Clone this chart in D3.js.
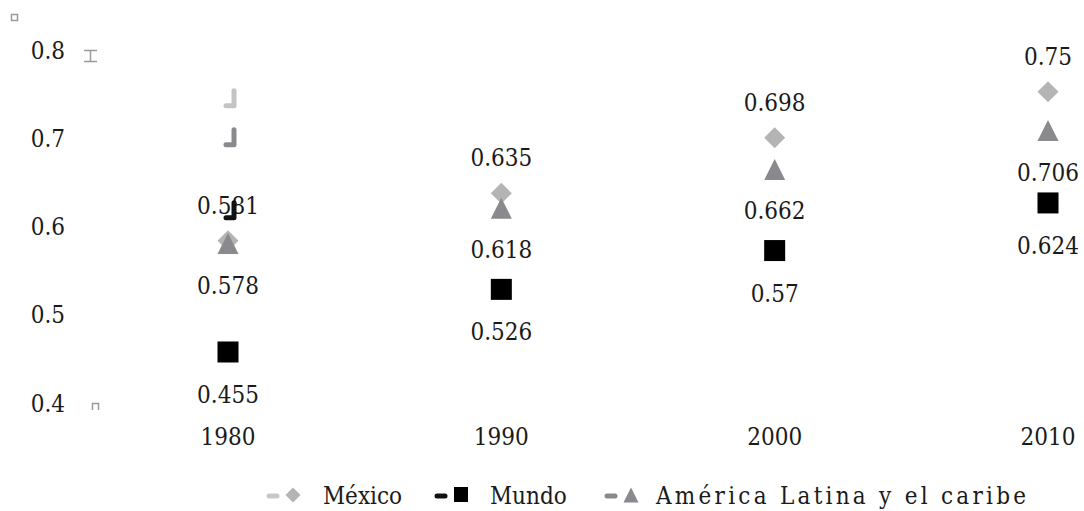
<!DOCTYPE html>
<html>
<head>
<meta charset="utf-8">
<script src="https://cdn.jsdelivr.net/npm/d3@7"></script>
<style>
  html, body { margin: 0; padding: 0; background: #fff; }
  svg { display: block; }
  text { font-family: "DejaVu Serif Condensed", "DejaVu Serif", serif; font-stretch: condensed; fill: #1a1a1a; }
</style>
</head>
<body>
<svg id="chart" width="1084" height="511"></svg>
<script>
// Years on the horizontal axis
const years = ["1980", "1990", "2000", "2010"];
// Index values per region
const mexico = [0.581, 0.635, 0.698, 0.75];
const mundo = [0.455, 0.526, 0.57, 0.624];
const latam = [0.578, 0.618, 0.662, 0.706];
// Axis ticks
const yTicks = [0.4, 0.5, 0.6, 0.7, 0.8];
const seriesNames = ["México", "Mundo", "América Latina y el caribe"];

const svg = d3.select("#chart");
const fontSize = 24;

const x = d3.scalePoint().domain(years).range([228, 1048]);
const y = d3.scaleLinear().domain([0.4, 0.8]).range([400.5, 47.7]);

const colors = { mexico: "#b4b4b4", mundo: "#000000", latam: "#8a8a8e" };

// Y tick labels
svg.append("g").selectAll("text").data(yTicks).join("text")
  .attr("x", 65).attr("y", d => y(d) + 3)
  .attr("text-anchor", "end").attr("dominant-baseline", "central")
  .attr("font-size", fontSize)
  .text(d => d.toFixed(1));

// X labels
svg.append("g").selectAll("text").data(years).join("text")
  .attr("x", d => x(d)).attr("y", 437)
  .attr("text-anchor", "middle").attr("dominant-baseline", "central")
  .attr("font-size", fontSize)
  .text(d => d);

// Small axis glyphs
const glyph = svg.append("g").attr("fill", "none").attr("stroke", "#9a9a9a").attr("stroke-width", 1.5);
glyph.append("rect").attr("x", 11.5).attr("y", 14.5).attr("width", 6).attr("height", 6);
glyph.append("path").attr("d", "M84,50.5H97M84,61.5H97M90.5,50.5V61.5");
glyph.append("path").attr("d", "M92.5,410V403.5H98.5V410");

// Stub strokes in the first column
const stubs = [
  { yv: 0.742, color: "#c4c4c6" },
  { yv: 0.698, color: "#8a8a8e" },
  { yv: 0.615, color: "#111111" }
];
const stubLayer = svg.append("g");

const symSize = 21;
const diamond = (cx, cy, s) => `M${cx},${cy - s / 2}L${cx + s / 2},${cy}L${cx},${cy + s / 2}L${cx - s / 2},${cy}Z`;
const triangle = (cx, cy, s) => `M${cx},${cy - s / 2}L${cx + s / 2},${cy + s / 2}L${cx - s / 2},${cy + s / 2}Z`;

const gMarks = svg.append("g");
// México diamonds
gMarks.selectAll(".mx").data(mexico).join("path").attr("class", "mx")
  .attr("d", (d, i) => diamond(x(years[i]), y(d), symSize))
  .attr("fill", colors.mexico);
// América Latina triangles
gMarks.selectAll(".la").data(latam).join("path").attr("class", "la")
  .attr("d", (d, i) => triangle(x(years[i]), y(d), symSize))
  .attr("fill", colors.latam);
// Mundo squares
gMarks.selectAll(".mu").data(mundo).join("rect").attr("class", "mu")
  .attr("x", (d, i) => x(years[i]) - symSize / 2)
  .attr("y", d => y(d) - symSize / 2)
  .attr("width", symSize).attr("height", symSize)
  .attr("fill", colors.mundo);

// Value labels
const gLab = svg.append("g").attr("font-size", fontSize).attr("text-anchor", "middle").attr("dominant-baseline", "central");
gLab.selectAll(".lmx").data(mexico).join("text").attr("class", "lmx")
  .attr("x", (d, i) => x(years[i])).attr("y", d => y(d) - 35).text(d => d);
gLab.selectAll(".lla").data(latam).join("text").attr("class", "lla")
  .attr("x", (d, i) => x(years[i])).attr("y", d => y(d) + 42).text(d => d);
gLab.selectAll(".lmu").data(mundo).join("text").attr("class", "lmu")
  .attr("x", (d, i) => x(years[i])).attr("y", d => y(d) + 43).text(d => d);

// Stubs are drawn over the labels
stubLayer.raise();
stubLayer.selectAll("path").data(stubs).join("path")
  .attr("d", d => {
    const cx = x(years[0]) + 6, cy = y(d.yv);
    return `M${cx},${cy - 8}V${cy + 7}H${cx - 8}`;
  })
  .attr("fill", "none").attr("stroke", d => d.color)
  .attr("stroke-width", 5).attr("stroke-linecap", "round").attr("stroke-linejoin", "round");

// Legend
const legend = svg.append("g").attr("font-size", fontSize);
const legendItems = [
  { name: seriesNames[0], x: 272, color: colors.mexico, dash: "#c8c8c8", shape: "diamond", tx: 323, w: null },
  { name: seriesNames[1], x: 440, color: colors.mundo, dash: "#111111", shape: "square", tx: 490, w: null },
  { name: seriesNames[2], x: 610, color: colors.latam, dash: "#8a8a8e", shape: "triangle", tx: 656, w: 370 }
];
const ly = 496;
legendItems.forEach(it => {
  legend.append("line").attr("x1", it.x - 3).attr("x2", it.x + 5).attr("y1", ly).attr("y2", ly)
    .attr("stroke", it.dash).attr("stroke-width", 5).attr("stroke-linecap", "round");
  const mx = it.x + 21;
  if (it.shape === "diamond") {
    legend.append("path").attr("d", diamond(mx, ly - 1, 15)).attr("fill", it.color);
  } else if (it.shape === "square") {
    legend.append("rect").attr("x", mx - 7).attr("y", ly - 9).attr("width", 14).attr("height", 15).attr("fill", it.color);
  } else {
    legend.append("path").attr("d", triangle(mx, ly - 1, 15)).attr("fill", it.color);
  }
  const t = legend.append("text").attr("x", it.tx).attr("y", ly).attr("dominant-baseline", "central").text(it.name);
  if (it.w) t.attr("textLength", it.w).attr("lengthAdjust", "spacing");
});
</script>
</body>
</html>
